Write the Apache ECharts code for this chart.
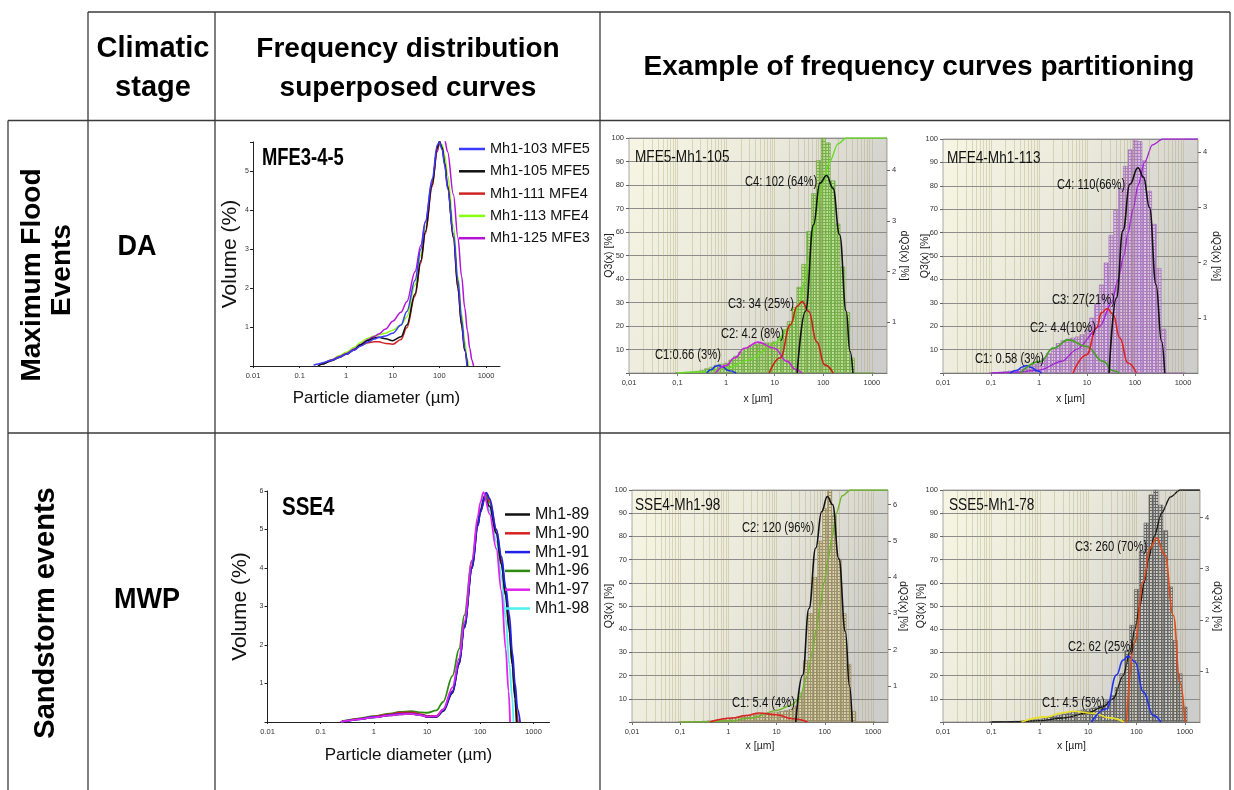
<!DOCTYPE html>
<html><head><meta charset="utf-8">
<script src="https://cdn.jsdelivr.net/npm/echarts@6/dist/echarts.min.js"></script>
<style>html,body{margin:0;padding:0;background:#fff}#c{width:1234px;height:790px}</style>
</head><body><div id="c"></div><script>
const SANS = "'Liberation Sans', Arial, Helvetica, sans-serif";
const NARROW = "'Liberation Sans Narrow','Arial Narrow','Liberation Sans', Arial, sans-serif";

// ---------- Column 1 : superposed frequency curves (x in µm, y in Volume %) ----------
const mfeNames = ['Mh1-103 MFE5','Mh1-105 MFE5','Mh1-111 MFE4','Mh1-113 MFE4','Mh1-125 MFE3'];
const mfe103 = [[0.2,0.02],[0.25,0.05],[0.3,0.08],[0.5,0.15],[0.7,0.22],[1,0.3],[1.5,0.41],[2,0.51],[3,0.62],[4,0.69],[5,0.73],[7,0.77],[10,0.84],[15,1.05],[20,1.4],[30,2.2],[40,3.0],[50,3.7],[70,4.8],[90,5.67],[100,5.74],[115,5.55],[130,5.15],[150,4.55],[200,3.4],[250,2.2],[300,1.2],[350,0.45],[390,0]];
const mfe105 = [[0.25,0],[0.3,0.05],[0.5,0.14],[0.7,0.22],[1,0.3],[1.5,0.42],[2,0.54],[3,0.66],[4,0.72],[5,0.74],[7,0.7],[10,0.65],[15,0.75],[20,1.05],[30,1.85],[40,2.7],[50,3.45],[70,4.65],[90,5.6],[100,5.77],[115,5.6],[130,5.2],[150,4.6],[200,3.3],[250,2.0],[300,1.05],[350,0.4],[400,0]];
const mfe111 = [[0.25,0],[0.3,0.05],[0.5,0.14],[0.7,0.22],[1,0.3],[1.5,0.42],[2,0.52],[3,0.6],[4,0.62],[5,0.62],[7,0.58],[10,0.56],[15,0.68],[20,0.98],[30,1.8],[40,2.65],[50,3.4],[70,4.6],[90,5.55],[100,5.72],[115,5.6],[130,5.22],[150,4.65],[200,3.3],[250,2.0],[300,1.05],[350,0.4],[400,0]];
const mfe113 = [[0.25,0],[0.3,0.06],[0.5,0.17],[0.7,0.26],[1,0.35],[1.5,0.48],[2,0.6],[3,0.72],[4,0.77],[5,0.8],[7,0.84],[10,0.92],[15,1.05],[20,1.26],[30,2.08],[40,2.85],[50,3.57],[70,4.73],[90,5.54],[100,5.68],[115,5.67],[130,5.4],[150,4.9],[200,3.6],[250,2.3],[300,1.35],[350,0.65],[390,0.22],[420,0]];
const mfe125 = [[0.25,0],[0.3,0.06],[0.5,0.16],[0.7,0.24],[1,0.32],[1.5,0.44],[2,0.55],[3,0.68],[4,0.76],[5,0.82],[7,0.95],[10,1.15],[15,1.38],[20,1.65],[30,2.42],[40,3.1],[50,3.7],[70,4.73],[90,5.5],[100,5.75],[115,5.88],[130,5.8],[150,5.5],[200,4.4],[250,3.3],[300,2.3],[350,1.5],[400,0.9],[450,0.45],[500,0.15],[540,0]];

const sseNames = ['Mh1-89','Mh1-90','Mh1-91','Mh1-96','Mh1-97','Mh1-98'];
const sse89 = [[0.24,0],[0.3,0.03],[0.5,0.07],[1,0.12],[2,0.17],[3,0.2],[5,0.21],[8,0.17],[10,0.13],[15,0.13],[20,0.28],[30,0.75],[40,1.5],[50,2.45],[70,4.0],[90,5.1],[100,5.45],[120,5.85],[150,5.6],[200,4.9],[250,4.1],[300,3.3],[350,2.4],[400,1.5],[450,0.6],[480,0]];
const sse90 = [[0.24,0],[0.3,0.03],[0.5,0.08],[1,0.14],[2,0.2],[3,0.24],[5,0.25],[8,0.2],[10,0.16],[15,0.16],[20,0.32],[30,0.8],[40,1.55],[50,2.5],[70,4.05],[90,5.15],[100,5.5],[130,5.95],[150,5.75],[200,5.0],[250,4.2],[300,3.4],[350,2.5],[400,1.6],[450,0.8],[500,0.1],[510,0]];
const sse91 = [[0.24,0],[0.3,0.03],[0.5,0.07],[1,0.13],[2,0.18],[3,0.21],[5,0.22],[8,0.18],[10,0.14],[15,0.14],[20,0.3],[30,0.78],[40,1.52],[50,2.45],[70,4.0],[90,5.1],[100,5.45],[130,5.96],[150,5.8],[200,5.0],[250,4.3],[300,3.5],[350,2.8],[400,1.8],[450,1.0],[500,0.35],[560,0]];
const sse96 = [[0.24,0],[0.3,0.04],[0.5,0.09],[1,0.15],[2,0.22],[3,0.26],[5,0.28],[8,0.25],[10,0.24],[15,0.3],[20,0.52],[30,1.2],[40,1.9],[50,2.77],[70,4.2],[90,5.2],[100,5.5],[125,5.9],[150,5.7],[200,4.9],[250,4.1],[300,3.3],[350,2.4],[400,1.5],[450,0.7],[490,0]];
const sse97 = [[0.24,0],[0.3,0.03],[0.5,0.07],[1,0.12],[2,0.17],[3,0.2],[5,0.21],[8,0.17],[10,0.14],[15,0.15],[20,0.33],[30,0.9],[40,1.65],[50,2.6],[70,4.2],[90,5.35],[100,5.7],[115,5.97],[150,5.4],[200,4.5],[250,3.4],[300,1.9],[340,0.8],[363,0]];
const sse98 = [[0.24,0],[0.3,0.03],[0.5,0.07],[1,0.12],[2,0.18],[3,0.21],[5,0.22],[8,0.18],[10,0.14],[15,0.15],[20,0.3],[30,0.8],[40,1.55],[50,2.5],[70,4.05],[90,5.2],[100,5.5],[120,5.9],[150,5.5],[200,4.7],[250,3.8],[300,2.7],[350,1.5],[400,0.6],[420,0]];

// ---------- Partition charts ----------
const bins = [0.1,0.126,0.158,0.2,0.251,0.316,0.398,0.501,0.631,0.794,1,1.26,1.58,2,2.51,3.16,3.98,5.01,6.31,7.94,10,12.6,15.8,20,25.1,31.6,39.8,50.1,63.1,79.4,100,126,158,200,251,316,398,501,631,794,1000];
const histC = [0.01,0.01,0.02,0.03,0.04,0.06,0.09,0.12,0.16,0.18,0.2,0.26,0.34,0.42,0.49,0.54,0.57,0.59,0.6,0.6,0.62,0.72,0.86,1.02,1.3,1.7,2.15,2.8,3.55,4.2,4.64,4.55,3.8,2.95,2.1,1.2,0.3,0,0,0,0];
const histD = [0.01,0.01,0.02,0.03,0.04,0.05,0.07,0.09,0.12,0.16,0.2,0.27,0.36,0.46,0.54,0.59,0.62,0.64,0.66,0.7,0.79,1.0,1.25,1.6,2.0,2.5,2.95,3.35,3.75,4.05,4.24,4.2,3.85,3.3,2.7,1.9,0.8,0,0,0,0];
const histE = [0,0,0.01,0.01,0.02,0.03,0.04,0.05,0.07,0.09,0.11,0.13,0.15,0.17,0.19,0.21,0.22,0.23,0.24,0.26,0.28,0.3,0.32,0.35,0.45,0.8,1.7,3.0,4.0,5.0,5.9,6.4,5.7,4.5,3.0,1.6,0.3,0,0,0,0];
const histF = [0,0,0.01,0.01,0.01,0.02,0.02,0.03,0.04,0.05,0.06,0.08,0.1,0.12,0.14,0.16,0.18,0.2,0.22,0.24,0.26,0.28,0.3,0.33,0.42,0.52,0.68,0.95,1.4,1.9,2.6,3.35,3.9,4.45,4.54,4.25,3.75,2.65,1.6,0.95,0.3];
const cumC = [[0.1,0],[0.3,0.4],[1,2],[3,5.6],[10,12.7],[21,20],[32.7,30],[42.6,40],[51.3,50],[62.7,60],[75.5,70],[94,80],[136,90],[200,97.5],[297,100],[2050,100]];
const cumD = [[0.1,0],[0.3,0.3],[1,1.2],[3,5],[6,10],[18.5,20],[32.5,30],[44.5,40],[58,50],[71.6,60],[91,70],[115,80],[158,90],[230,97.5],[380,100],[2050,100]];
const cumE = [[0.1,0],[0.3,0.1],[1,0.4],[3,1.7],[10,5],[20,7.2],[29.5,10],[43.8,20],[55,30],[67,40],[80,50],[96,60],[117,70],[143,80],[173,90],[230,97.5],[340,100],[2050,100]];
const cumF = [[0.1,0],[0.3,0.1],[1,0.6],[3,1.7],[10,4],[20,6.5],[32.9,10],[53,20],[72.8,30],[92.5,40],[117,50],[144,60],[175,70],[232,80],[329,90],[500,97],[800,100],[2050,100]];
const c1C = [[0.4,0],[0.5,0.07],[0.6,0.13],[0.7,0.15],[0.85,0.12],[1.1,0.05],[1.6,0]];
const c2C = [[0.6,0],[1,0.15],[1.5,0.3],[2.4,0.49],[4.5,0.61],[9.8,0.49],[18,0.23],[27,0.07],[36,0]];
const c3C = [[7.7,0],[13,0.3],[21,0.95],[29,1.32],[36.6,1.41],[50,1.22],[73,0.62],[107,0.16],[160,0]];
const c4C = [[29,0],[43,1.22],[63,2.93],[85,3.75],[117,3.9],[158,3.65],[217,2.73],[296,1.22],[355,0.43],[407,0]];
const c1D = [[0.25,0],[0.35,0.05],[0.45,0.11],[0.55,0.133],[0.7,0.1],[0.9,0.04],[1.13,0]];
const c2D = [[0.41,0],[1.05,0.21],[2,0.45],[4.1,0.6],[9.8,0.48],[21.7,0.21],[35,0.04],[47,0]];
const c3D = [[5.1,0],[9.8,0.33],[15.8,0.82],[20,1.09],[26.4,1.17],[35,1.06],[48,0.64],[71,0.18],[107,0]];
const c4D = [[28.8,0],[41,1.36],[56,2.58],[78,3.42],[115,3.72],[150,3.55],[200,3.0],[274,1.6],[356,0.58],[415,0]];
const c1E = [[0.41,0],[1.24,0.11],[2.3,0.18],[4.4,0.25],[9.8,0.2],[21.5,0.09],[43.6,0]];
const c2E = [[25,0],[34.6,1.29],[47,3.13],[65,4.8],[86,5.8],[113,6.22],[145,6.0],[196,4.5],[268,2.49],[325,1.0],[370,0]];
const c1F = [[0.42,0],[1.4,0.1],[2.6,0.17],[4.9,0.21],[12.6,0.17],[28,0.08],[55,0]];
const c2F = [[11.7,0],[24,0.26],[38.5,0.92],[52.6,1.21],[67,1.29],[93,1.18],[138,0.59],[221,0.13],[317,0]];
const c3F = [[62,0],[92.5,1.57],[138,2.75],[189,3.4],[260,3.6],[385,3.27],[575,2.09],[790,0.78],[1000,0]];

const partTitles = ['MFE5-Mh1-105','MFE4-Mh1-113','SSE4-Mh1-98','SSE5-Mh1-78'];
const annC = ['C1:0.66 (3%)','C2: 4.2 (8%)','C3: 34 (25%)','C4: 102 (64%)'];
const annD = ['C1: 0.58 (3%)','C2: 4.4(10%)','C3: 27(21%)','C4: 110(66%)'];
const annE = ['C1: 5.4 (4%)','C2: 120 (96%)'];
const annF = ['C1: 4.5 (5%)','C2: 62 (25%)','C3: 260 (70%)'];

// ---------- helpers ----------
const decLabels = {'-2':['0.01','0,01'],'-1':['0.1','0,1'],'0':['1','1'],'1':['10','10'],'2':['100','100'],'3':['1000','1000']};
function logFmt(comma){
  return function(v){
    const l = Math.log10(v), e = Math.round(l);
    if (Math.abs(l-e) > 0.01) return '';
    const d = decLabels[String(e)];
    return d ? d[comma?1:0] : '';
  };
}
function hatch(base, line){
  const c = document.createElement('canvas'); c.width = 3; c.height = 3;
  const g = c.getContext('2d');
  g.fillStyle = base; g.fillRect(0,0,3,3);
  g.fillStyle = line; g.fillRect(0,0,1,3); g.fillRect(1,0,2,1);
  return {image:c, repeat:'repeat'};
}
const XMAX = 2050;
const gridsDef = [
  {left:253, top:142, width:247, height:224},
  {left:267.5, top:491, width:282, height:231},
  {left:629, top:138, width:258, height:235},
  {left:943, top:139, width:255, height:234},
  {left:632, top:490, width:256, height:232},
  {left:943, top:490, width:257, height:232}
];
const bgGrad = {type:'linear',x:0,y:0,x2:1,y2:0.45,colorStops:[{offset:0,color:'#f7f5e3'},{offset:0.5,color:'#eae9db'},{offset:1,color:'#cdcdcb'}]};
const grid = gridsDef.map((g,i)=>Object.assign({}, g, {
  outerBoundsMode:'none', containLabel:false,
  show: i>=2, backgroundColor: i>=2 ? bgGrad : 'transparent', borderColor:'#a8a8a8', borderWidth: i>=2 ? 1 : 0
}));

const xAxis = [], yAxis = [], series = [];

[[0,5.75,12.5,24],[1,6,17,25]].forEach(([i,ymax,ngY,ngX])=>{
  xAxis.push({type:'log', logBase:10, gridIndex:i, min:0.01, max:2000,
    axisLine:{show:true, lineStyle:{color:'#222', width:1}},
    axisTick:{show:true, length:2, lineStyle:{color:'#222'}},
    axisLabel:{fontSize:7.5, color:'#333', fontFamily:NARROW, margin:6, formatter:logFmt(false), showMaxLabel:false, showMinLabel:true},
    splitLine:{show:false},
    name:'Particle diameter (µm)', nameLocation:'middle', nameGap:ngX, nameMoveOverlap:false,
    nameTextStyle:{fontSize:17, color:'#111', fontFamily:SANS}});
  yAxis.push({type:'value', gridIndex:i, min:0, max:ymax, interval:1,
    axisLine:{show:true, lineStyle:{color:'#222'}},
    axisTick:{show:true, length:3, lineStyle:{color:'#222'}},
    axisLabel:{fontSize:7, color:'#333', fontFamily:NARROW, margin:4,
      formatter:v=>(v>0 && Number.isInteger(v)) ? String(v) : ''},
    splitLine:{show:false},
    name:'Volume (%)', nameLocation:'middle', nameGap:ngY, nameRotate:90, nameMoveOverlap:false,
    nameTextStyle:{fontSize:21, color:'#111', fontFamily:SANS}});
});

const mfeSeries = [[mfe113,mfeNames[3],'#88ff10'],[mfe125,mfeNames[4],'#b412d4'],[mfe111,mfeNames[2],'#d02424'],[mfe105,mfeNames[1],'#111111'],[mfe103,mfeNames[0],'#3b3bff']];
mfeSeries.forEach(([d,n,c])=>series.push({type:'line', name:n, xAxisIndex:0, yAxisIndex:0, data:d, smooth:0.35, smoothMonotone:'x', symbol:'none', color:c, lineStyle:{width:1.5, color:c}, z:3, silent:true}));
const sseSeries = [[sse98,sseNames[5],'#4ff0f0'],[sse96,sseNames[3],'#2e8b12'],[sse90,sseNames[1],'#d42222'],[sse89,sseNames[0],'#111111'],[sse91,sseNames[2],'#2222e6'],[sse97,sseNames[4],'#e024f0']];
sseSeries.forEach(([d,n,c])=>series.push({type:'line', name:n, xAxisIndex:1, yAxisIndex:1, data:d, smooth:0.35, smoothMonotone:'x', symbol:'none', color:c, lineStyle:{width:1.8, color:c}, z:3, silent:true}));

const minorLines = [];
for (let k=-2;k<=3;k++) for (let m=1;m<=9;m++){ const v=m*Math.pow(10,k); if (v>0.0101 && v<XMAX) minorLines.push({xAxis:v}); }

const parts = [
  {g:2, rmax:4.64, hist:histC, cum:cumC, comps:[[c1C,'#2233ee'],[c2C,'#c824dc'],[c3C,'#cc2020'],[c4C,'#111111']], fill:hatch('rgba(182,228,134,0.8)','rgba(104,168,60,0.85)'), edge:'#67a23c', cumColor:'#66dd22', ngL:14, ngR:11, ngX:21},
  {g:3, rmax:4.24, hist:histD, cum:cumD, comps:[[c1D,'#2233ee'],[c2D,'#44a023'],[c3D,'#dd2222'],[c4D,'#111111']], fill:hatch('rgba(222,190,234,0.8)','rgba(165,112,190,0.85)'), edge:'#9a6cb0', cumColor:'#a322d8', ngL:12, ngR:12, ngX:21},
  {g:4, rmax:6.4, hist:histE, cum:cumE, comps:[[c1E,'#dd2222'],[c2E,'#111111']], fill:hatch('rgba(222,212,172,0.85)','rgba(150,138,95,0.9)'), edge:'#8d8260', cumColor:'#6cb828', ngL:17, ngR:9, ngX:19},
  {g:5, rmax:4.54, hist:histF, cum:cumF, comps:[[c1F,'#e8e020'],[c2F,'#2233ee'],[c3F,'#e04a1a']], fill:hatch('rgba(205,205,205,0.85)','rgba(90,90,90,0.9)'), edge:'#555555', cumColor:'#1a1a1a', ngL:16, ngR:11, ngX:19}
];
const tickFont = {fontSize:7.5, color:'#333', fontFamily:NARROW};
const nameFont = {fontSize:10.5, color:'#222', fontFamily:NARROW};
parts.forEach((p)=>{
  const xi = p.g;
  xAxis.push({type:'log', logBase:10, gridIndex:xi, min:0.01, max:XMAX,
    axisLine:{show:true, lineStyle:{color:'#777'}},
    axisTick:{show:true, length:3, lineStyle:{color:'#777'}},
    axisLabel:Object.assign({margin:6, formatter:logFmt(true), showMaxLabel:false}, tickFont),
    splitLine:{show:false},
    name:'x [µm]', nameLocation:'middle', nameGap:p.ngX, nameMoveOverlap:false, nameTextStyle:nameFont});
  const li = yAxis.length;
  yAxis.push({type:'value', gridIndex:xi, min:0, max:100, interval:10, position:'left',
    axisLine:{show:false}, axisTick:{show:true, length:3, lineStyle:{color:'#666'}},
    axisLabel:Object.assign({margin:5, formatter:v=>v===0?'':String(v)}, tickFont),
    splitLine:{show:true, lineStyle:{color:'#8c8c8c', width:1.2}},
    name:'Q3(x) [%]', nameLocation:'middle', nameGap:p.ngL, nameRotate:90, nameMoveOverlap:false, nameTextStyle:nameFont});
  const ri = yAxis.length;
  yAxis.push({type:'value', gridIndex:xi, min:0, max:p.rmax, interval:1, position:'right',
    axisLine:{show:false}, axisTick:{show:true, length:3, lineStyle:{color:'#666'}, customValues:[1,2,3,4,5,6].filter(v=>v<p.rmax)},
    axisLabel:Object.assign({margin:5, formatter:v=>(v>0 && Number.isInteger(v))?String(v):''}, tickFont),
    splitLine:{show:false},
    name:'dQ3(x) [%]', nameLocation:'middle', nameGap:p.ngR, nameRotate:-90, nameMoveOverlap:false, nameTextStyle:nameFont});
  const gd = gridsDef[xi];
  const bw = gd.width / (Math.log10(XMAX/0.01)*10);
  series.push({type:'line', xAxisIndex:xi, yAxisIndex:li, data:[], silent:true, z:1,
    markLine:{silent:true, symbol:['none','none'], label:{show:false}, animation:false,
      lineStyle:{color:'rgba(165,155,100,0.32)', width:1, type:'solid'}, emphasis:{disabled:true}, data:minorLines}});
  series.push({type:'bar', xAxisIndex:xi, yAxisIndex:ri, data:bins.map((b,j)=>[b,p.hist[j]]), barWidth:bw, silent:true, z:3,
    itemStyle:{color:p.fill, borderColor:p.edge, borderWidth:0.6}});
  series.push({type:'line', xAxisIndex:xi, yAxisIndex:li, data:p.cum, smooth:0.3, smoothMonotone:'x', symbol:'none', silent:true, z:4,
    lineStyle:{color:p.cumColor, width:1.4}});
  p.comps.forEach(([d,c])=>series.push({type:'line', xAxisIndex:xi, yAxisIndex:ri, data:d, smooth:0.45, smoothMonotone:'x', symbol:'none', silent:true, z:5,
    lineStyle:{color:c, width:1.6}}));
});

const els = [];
[[88,12,1230,12],[8,120.5,1230,120.5],[8,433,1230,433],[8,120.5,8,790],[88,12,88,790],[215,12,215,790],[600,12,600,790],[1230,12,1230,790]]
  .forEach(([x1,y1,x2,y2])=>els.push({type:'line', shape:{x1,y1,x2,y2}, style:{stroke:'#3a3a3a', lineWidth:1.3}, silent:true, z:20}));
function txt(text,x,y,size,opt){
  opt = opt||{};
  els.push({type:'text', x, y, rotation:opt.rot||0, scaleX:opt.sx||1, silent:true, z:30,
    style:{text, x:0, y:0, fontSize:size, fontWeight:opt.bold?'bold':'normal', fontFamily:SANS, fill:opt.color||'#000',
      align:opt.align||'center', verticalAlign:'middle', textAlign:opt.align||'center', textVerticalAlign:'middle'}});
}
txt('Climatic',153,49,29,{bold:true});
txt('stage',153,88,29,{bold:true});
txt('Frequency distribution',408,49,28,{bold:true});
txt('superposed curves',408,88,28,{bold:true});
txt('Example of frequency curves partitioning',919,67,28,{bold:true});
txt('Maximum Flood',32,275,28,{bold:true, rot:Math.PI/2});
txt('Events',62,270,28,{bold:true, rot:Math.PI/2});
txt('Sandstorm events',46,613,29,{bold:true, rot:Math.PI/2});
txt('DA',137,247,30,{bold:true, sx:0.9});
txt('MWP',147,600,30,{bold:true, sx:0.9});
txt('MFE3-4-5',262,159,23,{bold:true, sx:0.8, align:'left'});
txt('SSE4',282,508,25,{bold:true, sx:0.82, align:'left'});
[[635,157],[947,158],[635,505],[949,505]].forEach(([x,y],i)=>txt(partTitles[i],x,y,17,{sx:0.8, align:'left', color:'#111'}));
const annPos = [
  [annC,[[655,355],[721,334],[728,304],[745,182]]],
  [annD,[[975,359],[1030,328],[1052,300],[1057,185]]],
  [annE,[[732,703],[742,528]]],
  [annF,[[1042,703],[1068,647],[1075,547]]]
];
annPos.forEach(([a,pos])=>a.forEach((t,i)=>txt(t,pos[i][0],pos[i][1],14,{sx:0.8, align:'left', color:'#111'})));

const option = {
  animation:false, backgroundColor:'#ffffff',
  grid, xAxis, yAxis, series,
  legend:[
    {data:mfeNames, orient:'vertical', left:459, top:141, padding:0, itemWidth:26, itemHeight:2.5, itemGap:6.3, icon:'rect', selectedMode:false,
      textStyle:{fontSize:14.5, lineHeight:16, color:'#111', fontFamily:SANS}},
    {data:sseNames, orient:'vertical', left:505, top:506, padding:0, itemWidth:25, itemHeight:2.5, itemGap:1.8, icon:'rect', selectedMode:false,
      textStyle:{fontSize:16, lineHeight:17, color:'#111', fontFamily:SANS}}
  ],
  graphic:{elements:els}
};
const chart = echarts.init(document.getElementById('c'), null, {renderer:'canvas'});
chart.setOption(option);
</script></body></html>
